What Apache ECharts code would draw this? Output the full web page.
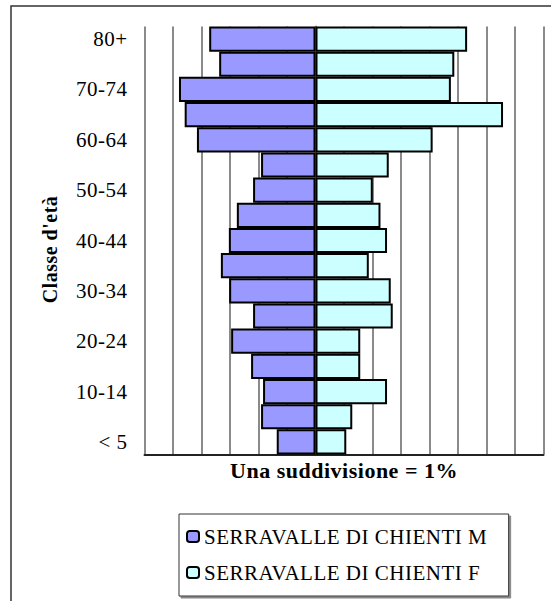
<!DOCTYPE html>
<html>
<head>
<meta charset="utf-8">
<script src="https://cdn.jsdelivr.net/npm/echarts@6/dist/echarts.min.js"></script>
<style>
  html, body { margin: 0; padding: 0; background: #fff; }
  #main { width: 551px; height: 601px; }
  #main text { letter-spacing: 0.5px; }
</style>
</head>
<body>
<div id="main"></div>
<script>
// classi d'età, dal basso verso l'alto
const classi = ['< 5', '5-9', '10-14', '15-19', '20-24', '25-29', '30-34', '35-39', '40-44',
  '45-49', '50-54', '55-59', '60-64', '65-69', '70-74', '75-79', '80+'];
// percentuali
const maschi = [1.36, 1.91, 1.84, 2.26, 2.96, 2.19, 3.03, 3.32, 3.04, 2.76, 2.19, 1.91, 4.16, 4.59, 4.79, 3.38, 3.73];
const femmine = [1.08, 1.29, 2.51, 1.57, 1.57, 2.71, 2.64, 1.87, 2.51, 2.28, 2.01, 2.57, 4.11, 6.58, 4.75, 4.87, 5.32];
const nomeM = 'SERRAVALLE DI CHIENTI M';
const nomeF = 'SERRAVALLE DI CHIENTI F';

const FONT = 'Liberation Serif, Times New Roman, serif';
const chart = echarts.init(document.getElementById('main'), null, {renderer: 'svg'});

const option = {
  animation: false,
  backgroundColor: '#fff',
  textStyle: {fontFamily: FONT, color: '#000'},
  graphic: [{
    type: 'rect',
    shape: {x: 11, y: 6, width: 600, height: 650},
    style: {fill: 'none', stroke: '#333', lineWidth: 1.5},
    silent: true
  }],
  grid: {left: 144.5, right: 7.5, top: 26.5, bottom: 146.5},
  legend: {
    orient: 'vertical',
    left: 179,
    top: 514,
    padding: [12, 33, 13, 7],
    itemGap: 15,
    itemWidth: 12,
    itemHeight: 11,
    borderColor: '#333',
    borderWidth: 1,
    backgroundColor: '#fff',
    shadowColor: '#888',
    shadowOffsetX: 2,
    shadowOffsetY: 2,
    shadowBlur: 0,
    textStyle: {fontFamily: FONT, fontSize: 21, color: '#000'},
    data: [nomeM, nomeF]
  },
  xAxis: {
    type: 'value',
    min: -6,
    max: 8,
    interval: 1,
    name: 'Una suddivisione = 1%',
    nameLocation: 'middle',
    nameGap: 5,
    nameTextStyle: {fontFamily: FONT, fontSize: 22, fontWeight: 'bold', color: '#000', verticalAlign: 'top'},
    axisLine: {show: true, lineStyle: {color: '#222', width: 2}},
    axisTick: {show: false},
    axisLabel: {show: false},
    splitLine: {show: true, lineStyle: {color: '#8a8a8a', width: 2}}
  },
  yAxis: {
    type: 'category',
    data: classi,
    name: "Classe d'età",
    nameLocation: 'middle',
    nameRotate: 90,
    nameGap: 85,
    nameTextStyle: {fontFamily: FONT, fontSize: 20, fontWeight: 'bold', color: '#000', padding: [0, 18, 0, 0]},
    axisLine: {show: true, lineStyle: {color: '#8a8a8a', width: 2}},
    axisTick: {show: false},
    axisLabel: {interval: 1, margin: 17, fontFamily: FONT, fontSize: 21, color: '#000'},
    splitLine: {show: false}
  },
  series: [
    {
      name: nomeM,
      type: 'bar',
      data: maschi.map(v => -v),
      barCategoryGap: 0,
      barGap: '-100%',
      itemStyle: {color: '#9999FF', borderColor: '#000', borderWidth: 2}
    },
    {
      name: nomeF,
      type: 'bar',
      data: femmine,
      barCategoryGap: 0,
      barGap: '-100%',
      itemStyle: {color: '#CCFFFF', borderColor: '#000', borderWidth: 2}
    }
  ]
};
chart.setOption(option);
</script>
</body>
</html>
